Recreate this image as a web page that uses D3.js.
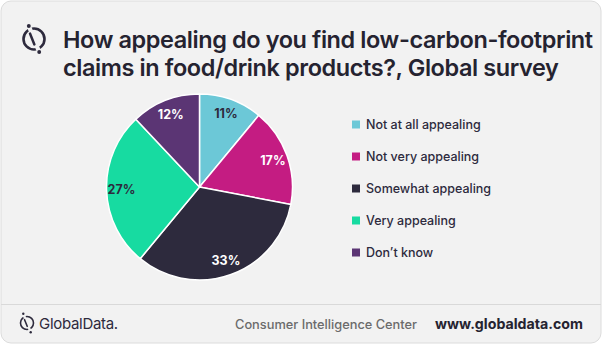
<!DOCTYPE html>
<html><head><meta charset="utf-8">
<script src="https://cdn.jsdelivr.net/npm/d3@7"></script>
<style>
html,body{margin:0;padding:0;background:#fff;}
svg{display:block;font-family:Inter,"Noto Sans",sans-serif;}
</style></head>
<body>
<svg id="c" width="602" height="344"></svg>
<script>
const categories = ["Not at all appealing","Not very appealing","Somewhat appealing","Very appealing","Don\u2019t know"];
const values = [11,17,33,27,12];
const colors = ["#6cc8d7","#c41c82","#2d2a3d","#17dba1","#5b3574"];
const labelColors = ["#2d2a3d","#ffffff","#ffffff","#2d2a3d","#ffffff"];
const titleLines = ["How appealing do you find low-carbon-footprint","claims in food/drink products?, Global survey"];

const svg = d3.select("#c");
const dark = "#2d2a3d";

// card
svg.append("rect").attr("x",1).attr("y",1).attr("width",600).attr("height",342)
  .attr("rx",10).attr("fill","#f2f2f2").attr("stroke","#dcdcdc").attr("stroke-width",1);
svg.append("line").attr("x1",1).attr("x2",601).attr("y1",304.5).attr("y2",304.5)
  .attr("stroke","#d9d9d9").attr("stroke-width",1);

// icon
function icon(g, cx, cy, r, sw){
  g.append("circle").attr("cx",cx).attr("cy",cy).attr("r",r).attr("fill","none")
    .attr("stroke",dark).attr("stroke-width",sw);
  const ang = Math.atan2(1,0.4);
  const dx = Math.cos(ang), dy = Math.sin(ang);
  g.append("line").attr("x1",cx-dx*(r+2)).attr("y1",cy-dy*(r+2)).attr("x2",cx+dx*(r+2)).attr("y2",cy+dy*(r+2))
    .attr("stroke","#f2f2f2").attr("stroke-width",sw*1.6);
  g.append("line").attr("x1",cx-dx*r*0.55-sw*0.7).attr("y1",cy-dy*r*0.55).attr("x2",cx+dx*r*0.55-sw*0.7).attr("y2",cy+dy*r*0.55)
    .attr("stroke",dark).attr("stroke-width",sw).attr("stroke-linecap","round");
  g.append("circle").attr("cx",cx-dx*(r+3.5)).attr("cy",cy-dy*(r+3.5)).attr("r",sw*0.75).attr("fill",dark);
  g.append("circle").attr("cx",cx+dx*(r+3.5)).attr("cy",cy+dy*(r+3.5)).attr("r",sw*0.75).attr("fill",dark);
}
icon(svg.append("g"), 34, 39, 10.5, 2.6);

// title
const tt = svg.append("g").selectAll("text").data(titleLines).join("text")
  .attr("x",63).attr("y",(d,i)=>48+i*28)
  .attr("font-size",21).attr("font-weight",600).attr("fill","#252330")
  .attr("letter-spacing",-0.4)
  .text(d=>d);
const w0 = tt.nodes()[0].getComputedTextLength();
const fs = Math.min(24, 21*528/w0);
tt.attr("font-size",fs);

// pie
const cx = 199.5, cy = 187, R = 93;
const pie = d3.pie().sort(null).value(d=>d)(values);
const arc = d3.arc().innerRadius(0).outerRadius(R);
const labelArc = d3.arc().innerRadius(78).outerRadius(78);
const pg = svg.append("g").attr("transform",`translate(${cx},${cy})`);
pg.selectAll("path").data(pie).join("path")
  .attr("d",arc).attr("fill",(d,i)=>colors[i])
  .attr("stroke","#ffffff").attr("stroke-width",1.5).attr("stroke-linejoin","round");
pg.selectAll("text").data(pie).join("text")
  .attr("transform",d=>`translate(${labelArc.centroid(d)})`)
  .attr("text-anchor","middle").attr("dy","0.36em")
  .attr("font-size",12.5).attr("font-weight",700)
  .attr("fill",(d,i)=>labelColors[i])
  .text(d=>d.data+"%");

// legend
const lg = svg.append("g");
const rowY = d3.scalePoint().domain(categories).range([124.5,252.5]);
const rows = lg.selectAll("g").data(categories).join("g")
  .attr("transform",d=>`translate(352,${rowY(d)})`);
rows.append("rect").attr("x",0).attr("y",-4).attr("width",8).attr("height",8)
  .attr("fill",(d,i)=>colors[i]);
rows.append("text").attr("x",14).attr("dy","0.35em")
  .attr("font-size",12.5).attr("font-weight",500).attr("fill","#2d2a3d").text(d=>d);

// footer
icon(svg.append("g"), 27, 323, 6.5, 1.6);
svg.append("text").attr("x",39).attr("y",328.5).attr("font-size",15).attr("font-weight",400)
  .attr("fill",dark).attr("letter-spacing",-0.3).text("GlobalData.");
svg.append("text").attr("x",235).attr("y",328.5).attr("font-size",12.8).attr("font-weight",500)
  .attr("fill","#6b6b6b").text("Consumer Intelligence Center");
svg.append("text").attr("x",435).attr("y",329).attr("font-size",14.2).attr("font-weight",700)
  .attr("fill","#252330").text("www.globaldata.com");
</script>
</body></html>
